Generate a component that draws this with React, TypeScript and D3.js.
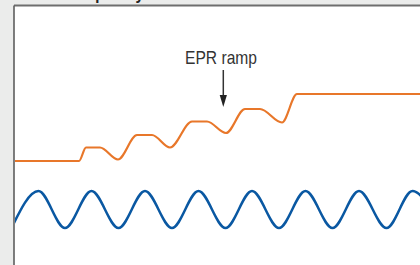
import React from "react";
import * as d3 from "d3";

const W = 420;
const H = 265;

// x in time units (0..406), y in signal units (0 = bottom of picture, up positive)
const orangeT = [0, 65, 72, 86, 104, 123, 138, 156, 178, 193, 212, 231, 246, 268, 283, 406];
const orangeV = [104, 104, 117.5, 117.5, 105.5, 130, 130, 117.5, 143.5, 143.5, 132, 156, 156, 142.5, 171, 171];

const blueT = [-2.5, 24.5, 51, 77.5, 104.5, 131, 158, 184.5, 211.5, 238, 265, 291.5, 318.5, 345, 372.5, 398.5, 425];
const blueV = [37, 74, 37, 74, 37, 74, 37, 74, 37, 74, 37, 74, 37, 74, 37, 74, 37];

const annotation = "EPR ramp";
const title = "Frequency";
const arrowT = 209.3;
const arrowFrom = 195;
const arrowTo = 158;

export default function App() {
  const panelLeft = 14;
  const panelTop = 5.5;
  const x = d3.scaleLinear().domain([0, 406]).range([panelLeft, W]);
  const y = d3.scaleLinear().domain([0, H]).range([H, 0]);

  const line = d3
    .line<[number, number]>()
    .x((d) => x(d[0]))
    .y((d) => y(d[1]))
    .curve(d3.curveMonotoneX);

  const orange = line(orangeT.map((t, i) => [t, orangeV[i]] as [number, number])) || "";
  const blue = line(blueT.map((t, i) => [t, blueV[i]] as [number, number])) || "";

  const ax = x(arrowT);
  const a1 = y(arrowFrom);
  const a2 = y(arrowTo);

  return (
    <svg
      width={W}
      height={H}
      style={{ position: "absolute", left: 0, top: 0, display: "block" }}
      fontFamily="'Liberation Sans', Arial, sans-serif"
    >
      <rect x={0} y={0} width={W} height={H} fill="#ebeceb" />
      <text x={66} y={-1.5} fontSize={18} fontWeight="bold" fill="#222" textLength={78} lengthAdjust="spacingAndGlyphs">
        {title}
      </text>
      <rect x={panelLeft} y={panelTop} width={W - panelLeft} height={H - panelTop} fill="#ffffff" />
      <line x1={panelLeft} x2={W} y1={panelTop} y2={panelTop} stroke="#6e6e6e" strokeWidth={1.8} />
      <line x1={panelLeft} x2={panelLeft} y1={panelTop} y2={H} stroke="#5e5e5e" strokeWidth={1.6} />
      <defs>
        <clipPath id="plot">
          <rect x={panelLeft + 1} y={panelTop + 1} width={W - panelLeft} height={H - panelTop} />
        </clipPath>
      </defs>
      <g clipPath="url(#plot)">
        <path d={orange} fill="none" stroke="#e8772a" strokeWidth={2.2} strokeLinejoin="round" />
        <path d={blue} fill="none" stroke="#0a58a2" strokeWidth={2.5} />
      </g>
      <text x={185} y={64} fontSize={19} fill="#333" textLength={72} lengthAdjust="spacingAndGlyphs">
        {annotation}
      </text>
      <line x1={ax} x2={ax} y1={a1} y2={a2 - 10} stroke="#333" strokeWidth={1.5} />
      <path d={`M${ax - 3.6},${a2 - 12} L${ax + 3.6},${a2 - 12} L${ax},${a2} Z`} fill="#222" />
    </svg>
  );
}
